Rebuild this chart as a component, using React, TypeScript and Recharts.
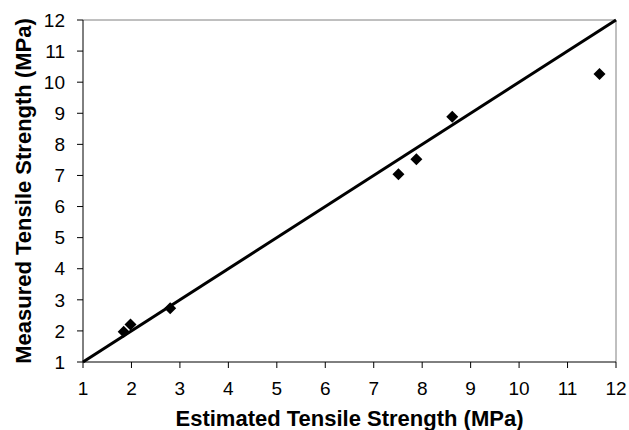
import React from 'react';
import { ScatterChart, Scatter, XAxis, YAxis, ReferenceLine } from 'recharts';

const estimated = [1.84, 1.98, 2.8, 7.51, 7.88, 8.62, 11.66];
const measured = [1.97, 2.21, 2.73, 7.04, 7.52, 8.89, 10.26];
const ticks = [1, 2, 3, 4, 5, 6, 7, 8, 9, 10, 11, 12];
const fitLine = [
  { x: 1, y: 1 },
  { x: 12, y: 12 },
];

const data = estimated.map((x, i) => ({ x, y: measured[i] }));

const FONT = '"Liberation Sans", Arial, sans-serif';
const TICK_FS = 19;

const Diamond = (props: any) => {
  const { cx, cy } = props;
  if (cx == null || cy == null) return null;
  const r = 6;
  return (
    <polygon
      points={`${cx},${cy - r} ${cx + r},${cy} ${cx},${cy + r} ${cx - r},${cy}`}
      fill="#000"
    />
  );
};

const XTick = (props: any) => {
  const { x, y, payload } = props;
  return (
    <text x={x} y={y} dy="0.71em" textAnchor="middle" fontSize={TICK_FS} fontFamily={FONT} fill="#000">
      {payload.value}
    </text>
  );
};

const YTick = (props: any) => {
  const { x, y, payload } = props;
  return (
    <text x={x} y={y} dy="0.355em" textAnchor="end" fontSize={TICK_FS} fontFamily={FONT} fill="#000">
      {payload.value}
    </text>
  );
};

export default function App() {
  return (
    <div style={{ position: 'absolute', left: 0, top: 0, background: '#fff' }}>
      <ScatterChart
        width={629}
        height={430}
        margin={{ top: 20, right: 13, bottom: 0, left: 0 }}
      >
        <XAxis
          type="number"
          dataKey="x"
          domain={[1, 12]}
          ticks={ticks}
          interval={0}
          allowDataOverflow
          height={68}
          tickSize={6}
          tickMargin={14}
          stroke="#000"
          tick={<XTick />}
          label={{
            value: 'Estimated Tensile Strength (MPa)',
            position: 'insideBottom',
            offset: 4,
            style: { fontSize: 22, fontWeight: 'bold', fill: '#000', fontFamily: FONT },
          }}
        />
        <YAxis
          type="number"
          dataKey="y"
          domain={[1, 12]}
          ticks={ticks}
          interval={0}
          allowDataOverflow
          width={83}
          tickSize={6}
          tickMargin={12}
          stroke="#000"
          tick={<YTick />}
          label={{
            value: 'Measured Tensile Strength (MPa)',
            angle: -90,
            position: 'insideLeft',
            offset: 23,
            style: { textAnchor: 'middle', fontSize: 22, fontWeight: 'bold', fill: '#000', fontFamily: FONT },
          }}
        />
        <ReferenceLine y={12} stroke="#808080" strokeWidth={1} />
        <ReferenceLine x={12} stroke="#808080" strokeWidth={1} />
        <ReferenceLine segment={fitLine} stroke="#000" strokeWidth={3} ifOverflow="visible" />
        <Scatter data={data} shape={<Diamond />} isAnimationActive={false} />
      </ScatterChart>
    </div>
  );
}
